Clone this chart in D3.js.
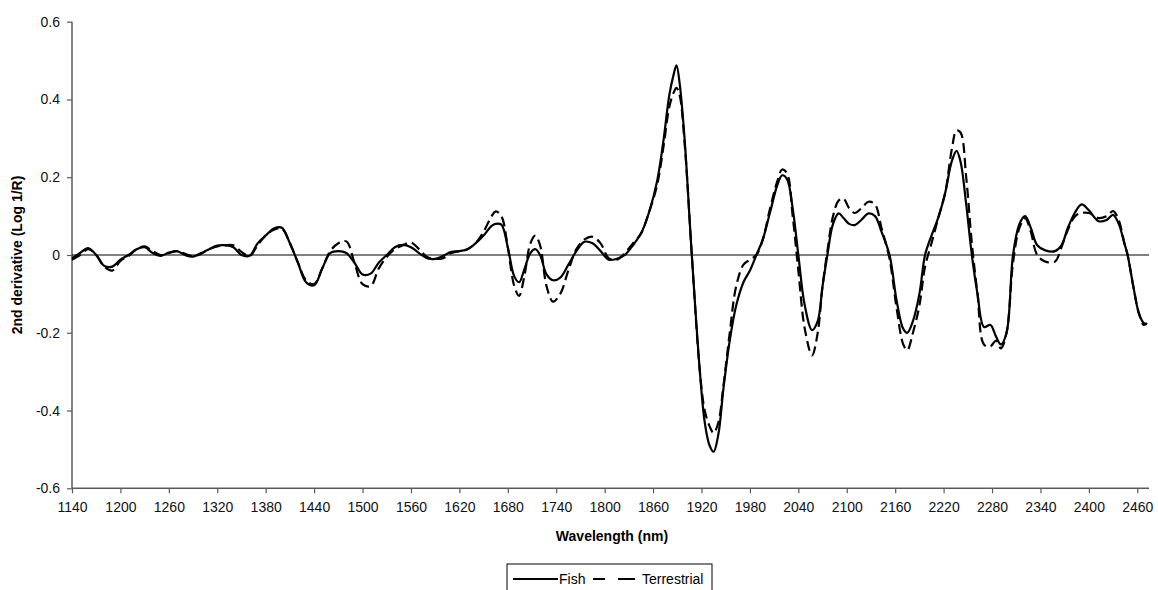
<!DOCTYPE html>
<html>
<head>
<meta charset="utf-8">
<script src="https://cdn.jsdelivr.net/npm/d3@7"></script>
<style>
    body { margin: 0; background: #fff; }
    text { font-family: Arial, "Liberation Sans", sans-serif; }
</style>
</head>
<body>
<div id="chart"></div>
<script>
"use strict";

var wavelengths = [
    1140, 1150, 1160, 1170, 1180, 1190, 1200, 1210, 1220, 1230, 1240, 1250,
    1260, 1270, 1280, 1290, 1300, 1310, 1320, 1330, 1340, 1350, 1360, 1370,
    1380, 1390, 1400, 1410, 1420, 1430, 1440, 1450, 1460, 1470, 1480, 1490,
    1500, 1510, 1520, 1530, 1540, 1550, 1560, 1570, 1580, 1590, 1600, 1610,
    1620, 1630, 1640, 1650, 1660, 1665, 1672, 1680, 1688, 1694, 1700, 1708,
    1714, 1720, 1728, 1736, 1745, 1755, 1765, 1775, 1785, 1795, 1805, 1815,
    1825, 1835, 1845, 1855, 1865, 1873, 1880, 1885, 1889, 1893, 1899, 1908,
    1918, 1924, 1930, 1935, 1941, 1947, 1955, 1963, 1972, 1980, 1988, 1996,
    2005, 2014, 2020, 2026, 2033, 2040, 2048, 2057, 2064, 2070, 2076, 2083,
    2090, 2096, 2103, 2110, 2118, 2127, 2135, 2143, 2153, 2162, 2170, 2175,
    2182, 2190, 2197, 2205, 2214, 2222, 2230, 2236, 2241, 2248, 2255, 2262,
    2270, 2278, 2285, 2291, 2298, 2306, 2314, 2321, 2328, 2336, 2346, 2358,
    2366, 2374, 2383, 2391, 2400, 2412, 2422, 2430, 2437, 2444, 2448, 2455,
    2462, 2468, 2472
];

var fish = [
    -0.008, 0.005, 0.018, 0.0, -0.028, -0.03, -0.012, 0.0, 0.015, 0.02, 0.005, -0.002,
    0.006, 0.01, 0.0, -0.004, 0.005, 0.015, 0.024, 0.025, 0.02, 0.0, -0.002, 0.03,
    0.05, 0.068, 0.07, 0.03, -0.02, -0.07, -0.078, -0.035, 0.005, 0.01, 0.005, -0.02,
    -0.05, -0.048, -0.02, 0.0, 0.02, 0.026, 0.02, 0.005, -0.008, -0.01, -0.002, 0.008,
    0.01, 0.015, 0.03, 0.05, 0.075, 0.08, 0.078, 0.02, -0.055, -0.07, -0.04, 0.005,
    0.015, 0.0, -0.05, -0.065, -0.058, -0.025, 0.01, 0.034, 0.03, 0.01, -0.012, -0.01,
    0.0, 0.025, 0.055, 0.11, 0.19, 0.296, 0.41, 0.46, 0.488, 0.44, 0.3, 0.0,
    -0.3, -0.43, -0.49, -0.506, -0.46, -0.347, -0.22, -0.13, -0.07, -0.04, 0.0, 0.04,
    0.11, 0.18, 0.205, 0.195, 0.12, 0.0, -0.13, -0.193, -0.17, -0.08, 0.0, 0.08,
    0.107, 0.095, 0.08, 0.077, 0.09, 0.107, 0.1, 0.06, 0.0, -0.12, -0.19, -0.2,
    -0.17, -0.1, 0.0, 0.05, 0.1, 0.16, 0.24, 0.268, 0.24, 0.13, 0.0, -0.1,
    -0.185, -0.18, -0.21, -0.23, -0.2, 0.0, 0.08, 0.1, 0.07, 0.025, 0.012, 0.01,
    0.025, 0.07, 0.11, 0.13, 0.115, 0.087, 0.09, 0.103, 0.08, 0.03, 0.0, -0.08,
    -0.15, -0.175, -0.178
];

var terrestrial = [
    -0.012, 0.0, 0.015, 0.0, -0.03, -0.04, -0.015, -0.003, 0.015, 0.022, 0.01, 0.0,
    0.005, 0.01, 0.003, -0.003, 0.003, 0.015, 0.022, 0.025, 0.025, 0.008, -0.003, 0.025,
    0.05, 0.065, 0.068, 0.03, -0.02, -0.065, -0.075, -0.035, 0.01, 0.03, 0.035, -0.02,
    -0.075, -0.08, -0.035, -0.005, 0.015, 0.025, 0.032, 0.015, -0.005, -0.01, -0.008, 0.005,
    0.01, 0.015, 0.03, 0.06, 0.1, 0.112, 0.1, 0.02, -0.08, -0.105, -0.06, 0.03,
    0.05, 0.025, -0.08, -0.12, -0.1, -0.04, 0.015, 0.04, 0.047, 0.03, -0.008, -0.012,
    0.005, 0.03, 0.055, 0.11, 0.18, 0.28, 0.38, 0.415, 0.43, 0.41, 0.29, 0.0,
    -0.3, -0.4, -0.44, -0.458, -0.43, -0.34, -0.2, -0.08, -0.025, -0.012, 0.0, 0.04,
    0.12, 0.19, 0.22, 0.21, 0.1, -0.04, -0.19, -0.258, -0.2, -0.08, 0.01, 0.1,
    0.14, 0.145, 0.12, 0.108, 0.12, 0.137, 0.13, 0.07, -0.01, -0.14, -0.23, -0.245,
    -0.2, -0.13, -0.03, 0.03, 0.1, 0.16, 0.27, 0.32, 0.315, 0.2, 0.03, -0.1,
    -0.23, -0.235, -0.22, -0.24, -0.2, -0.02, 0.07, 0.095, 0.06, 0.0, -0.017, -0.017,
    0.02, 0.065, 0.1, 0.108, 0.108, 0.095, 0.1, 0.113, 0.09, 0.03, 0.0, -0.08,
    -0.15, -0.18, -0.175
];

var xTicks = d3.range(1140, 2461, 60);
var yTicks = [-0.6, -0.4, -0.2, 0, 0.2, 0.4, 0.6];

var spec = {
    w: 1158,
    h: 590,
    left: 72,
    right: 1149,
    top: 21.7,
    bottom: 488.3
};

var svg = d3.select("#chart")
    .append("svg")
    .attr("width", spec.w)
    .attr("height", spec.h);

var x = d3.scaleLinear()
    .domain([1140, 2474.5])
    .range([spec.left, spec.right]);

var y = d3.scaleLinear()
    .domain([-0.6, 0.6])
    .range([spec.bottom, spec.top]);

var axisColor = "#5a5a5a";

// y axis (plain hyphen for negatives, like the original)
var yAxis = svg.append("g")
    .attr("transform", "translate(" + spec.left + ",0)")
    .call(d3.axisLeft(y)
        .tickValues(yTicks)
        .tickSize(5)
        .tickPadding(7)
        .tickFormat(function (d) { return d === 0 ? "0" : String(+d.toFixed(1)); }));

// x axis
var xAxis = svg.append("g")
    .attr("transform", "translate(0," + spec.bottom + ")")
    .call(d3.axisBottom(x)
        .tickValues(xTicks)
        .tickSize(5)
        .tickPadding(9)
        .tickFormat(function (d) { return String(d); }));

[xAxis, yAxis].forEach(function (g) {
    g.select(".domain").attr("stroke", axisColor).attr("stroke-width", 1.5);
    g.selectAll(".tick line").attr("stroke", axisColor).attr("stroke-width", 1.2);
    g.selectAll(".tick text")
        .attr("fill", "#111")
        .style("font-size", "14px")
        .style("font-family", "Arial, 'Liberation Sans', sans-serif");
});
xAxis.select(".domain").attr("d", "M" + spec.left + ",0H" + spec.right);
yAxis.select(".domain").attr("d", "M0," + spec.top + "V" + spec.bottom);

// zero line
svg.append("line")
    .attr("x1", spec.left)
    .attr("x2", spec.right)
    .attr("y1", y(0))
    .attr("y2", y(0))
    .attr("stroke", "#000")
    .attr("stroke-width", 1);

var line = function (values) {
    return d3.line()
        .x(function (d, i) { return x(wavelengths[i]); })
        .y(function (d) { return y(d); })
        .curve(d3.curveCatmullRom.alpha(0.5))(values);
};

svg.append("path")
    .attr("d", line(terrestrial))
    .attr("fill", "none")
    .attr("stroke", "#000")
    .attr("stroke-width", 2.2)
    .attr("stroke-dasharray", "10,5");

svg.append("path")
    .attr("d", line(fish))
    .attr("fill", "none")
    .attr("stroke", "#000")
    .attr("stroke-width", 2.2);

// axis titles
svg.append("text")
    .attr("x", 612)
    .attr("y", 541)
    .attr("text-anchor", "middle")
    .style("font-size", "14px")
    .style("font-weight", "bold")
    .text("Wavelength (nm)");

svg.append("text")
    .attr("transform", "translate(22,255) rotate(-90)")
    .attr("text-anchor", "middle")
    .style("font-size", "14px")
    .style("font-weight", "bold")
    .text("2nd derivative (Log 1/R)");

// legend
var legend = svg.append("g").attr("transform", "translate(507,564)");

legend.append("rect")
    .attr("x", 0)
    .attr("y", 0)
    .attr("width", 205)
    .attr("height", 30)
    .attr("fill", "#fff")
    .attr("stroke", "#000")
    .attr("stroke-width", 1);

legend.append("line")
    .attr("x1", 6).attr("x2", 51)
    .attr("y1", 15).attr("y2", 15)
    .attr("stroke", "#000").attr("stroke-width", 2.2);

legend.append("text")
    .attr("x", 52).attr("y", 20)
    .style("font-size", "14px")
    .text("Fish");

legend.append("line")
    .attr("x1", 86).attr("x2", 128)
    .attr("y1", 15).attr("y2", 15)
    .attr("stroke", "#000").attr("stroke-width", 2.2)
    .attr("stroke-dasharray", "12,13,17");

legend.append("text")
    .attr("x", 135).attr("y", 20)
    .style("font-size", "14px")
    .text("Terrestrial");
</script>
</body>
</html>
